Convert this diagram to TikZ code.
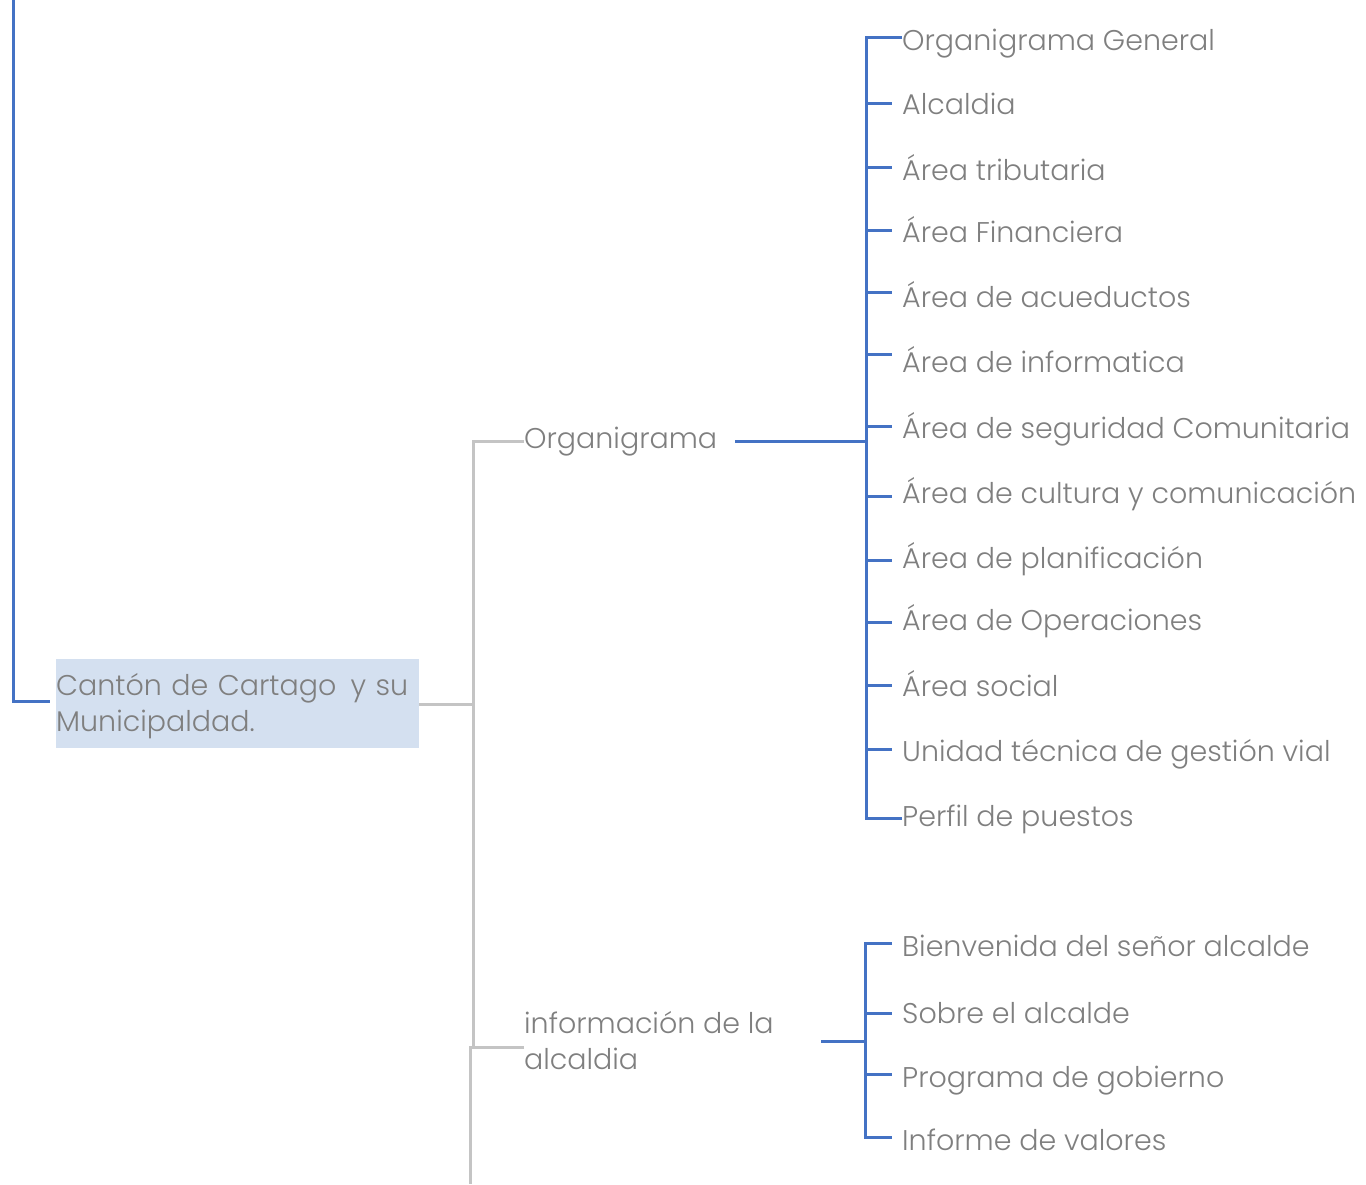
\documentclass[tikz,border=0pt]{standalone}
\usepackage{fontspec}
\setmainfont{Poppins}[UprightFont={* Light}]
\definecolor{txtgray}{HTML}{7F7F7F}
\definecolor{linkblue}{HTML}{4472C4}
\definecolor{linkgray}{HTML}{C4C4C4}
\definecolor{rootfill}{HTML}{D4E0F0}
\begin{document}
\begin{tikzpicture}[x=1pt,y=-1pt,
  every node/.style={font=\fontsize{28.5}{36}\selectfont, text=txtgray, inner sep=0pt},
  leaf/.style={anchor=base west},
  bluelink/.style={draw=linkblue, line width=3pt},
  graylink/.style={draw=linkgray, line width=3pt},
]
\useasboundingbox (0,0) rectangle (1366,1184);

% root
\node[fill=rootfill, minimum width=363pt, minimum height=89pt, anchor=north west,
      align=left, text width=363pt, inner ysep=8.5pt] (root) at (56,659)
      {\rule{0pt}{28pt}Cantón de Cartago\ \,y su\\ Municipaldad.\rule[-7.8pt]{0pt}{0pt}};
\coordinate (top) at (13,0);
\coordinate (rin) at (50,701);
\draw[bluelink] (top) |- (rin);

% second level
\node[leaf] (org) at (524,448) {Organigrama};
\node[anchor=north west, align=left] (info) at (524,1008) {\strut información de la\\alcaldia};

\coordinate (gA) at (473,704);
\coordinate (gB) at (470,1047);
\coordinate (gEnd) at (470,1184);
\draw[graylink] (root.east |- gA) -- (gA);
\draw[graylink] (org.west |- 0,441) -| (gA);
\draw[graylink] (gA) -- (473,1047) -- (gB);
\draw[graylink] (info.west |- gB) -- (gB) -- (gEnd);

% organigrama children
\foreach \i/\y/\t in {
  1/50/Organigrama General,
  2/114/Alcaldia,
  3/180/Área tributaria,
  4/242/Área Financiera,
  5/307/Área de acueductos,
  6/372/Área de informatica,
  7/438/Área de seguridad Comunitaria,
  8/503/Área de cultura y comunicación,
  9/568/Área de planificación,
  10/630/Área de Operaciones,
  11/696/Área social,
  12/761/Unidad técnica de gestión vial,
  13/826/Perfil de puestos}
  \node[leaf] (o\i) at (902,\y) {\t};

\coordinate (oj) at (866,441);
\coordinate (os) at (735,441);
\draw[bluelink] (os) -- (oj);
\draw[bluelink] (o1.west |- 0,37) -| (866,818) -- (o13.west |- 0,818);
\foreach \y in {103,167,230,292,354,426,496,560,622,685,749}
  \draw[bluelink] (866,\y) -- (892,\y);

% información children
\node[leaf] (a1) at (902,956) {Bienvenida del señor alcalde};
\node[leaf] (a2) at (902,1023) {Sobre el alcalde};
\node[leaf] (a3) at (902,1087) {Programa de gobierno};
\node[leaf] (a4) at (902,1150) {Informe de valores};

\coordinate (ij) at (865,1041);
\coordinate (is) at (821,1041);
\draw[bluelink] (is) -- (ij);
\draw[bluelink] (892,943) -| (865,1137) -- (892,1137);
\draw[bluelink] (865,1013) -- (892,1013);
\draw[bluelink] (865,1074) -- (892,1074);
\end{tikzpicture}
\end{document}
